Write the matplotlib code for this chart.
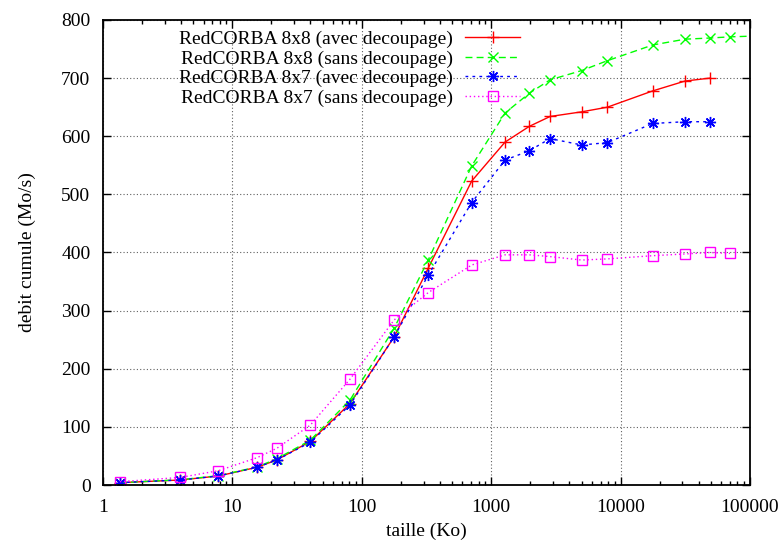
import matplotlib
matplotlib.use("Agg")
import matplotlib.pyplot as plt
from matplotlib.ticker import LogLocator, FixedLocator, NullFormatter

plt.rcParams['font.family'] = ['Liberation Serif', 'DejaVu Serif']

# tailles (Ko)
taille = [1.35, 3.95, 7.8, 15.5, 22, 40, 81, 178, 326, 707, 1280, 1970,
          2850, 5000, 7900, 17700, 31500, 49000, 70000]
taille_vert = taille + [130000]

# debit cumule (Mo/s)
avec_8x8 = [4, 8.6, 15.5, 30.5, 43, 75, 140, 255, 373, 523, 590, 617,
            634, 642, 650, 678, 695, 700]
sans_8x8 = [4, 9, 16, 31, 45, 77, 146, 270, 387, 549, 640, 674,
            697, 713, 730, 757, 767, 769, 771, 773]
avec_8x7 = [4, 8.6, 15.5, 30.4, 43, 73.5, 137.6, 255, 361, 486, 559, 575,
            596, 585, 589, 622, 625, 625]
sans_8x7 = [5.7, 13, 24.6, 47, 63, 103, 182, 284, 331, 378.5, 396, 396,
            393, 387, 389, 394.5, 397.5, 400, 398.5]

labels = ["RedCORBA 8x8 (avec decoupage)", "RedCORBA 8x8 (sans decoupage)",
          "RedCORBA 8x7 (avec decoupage)", "RedCORBA 8x7 (sans decoupage)"]

fig = plt.figure(figsize=(7.84, 5.42), dpi=100)
ax = fig.add_axes([103/784, 1-485/542, 647/784, 465/542])

ax.plot(taille[:len(avec_8x8)], avec_8x8, color='#ff0000', lw=1.0, ls='-',
        marker='+', ms=8, mew=1.0, label=labels[0])
ax.plot(taille_vert, sans_8x8, color='#00ff00', lw=1.0, ls=(0, (5, 3)),
        marker='x', ms=6.5, mew=1.0, label=labels[1])
ax.plot(taille[:len(avec_8x7)], avec_8x7, color='#0000ff', lw=1.0, ls=(0, (2, 3)),
        marker=(8, 2, 0), ms=8, mew=1.0, label=labels[2])
ax.plot(taille, sans_8x7, color='#ff00ff', lw=1.0, ls=(0, (1, 2)),
        marker='s', ms=6.5, mew=1.0, mfc='none', label=labels[3])

ax.set_xscale('log')
ax.set_xlim(1, 100000)
ax.set_ylim(0, 800)
ax.xaxis.set_major_locator(FixedLocator([1, 10, 100, 1000, 10000, 100000]))
ax.set_xticklabels(['1', '10', '100', '1000', '10000', '100000'])
ax.xaxis.set_minor_locator(LogLocator(base=10, subs=range(2, 10)))
ax.xaxis.set_minor_formatter(NullFormatter())
ax.set_yticks(range(0, 801, 100))

ax.grid(True, which='major', color='#606060', ls=(0, (1, 2)), lw=0.8)
ax.tick_params(which='both', direction='in', top=True, right=True,
               labelsize=14, width=1.0)
ax.tick_params(which='major', length=6)
ax.tick_params(axis='x', which='major', pad=10)
ax.tick_params(axis='y', which='major', pad=9)
ax.tick_params(which='minor', length=3)
for s in ax.spines.values():
    s.set_linewidth(1.3)

ax.set_xlabel('taille (Ko)', fontsize=14, labelpad=5)
ax.set_ylabel('debit cumule (Mo/s)', fontsize=14, labelpad=18)

ax.legend(loc='upper right', bbox_to_anchor=(0.645, 0.978), frameon=False,
          markerfirst=False, fontsize=14, handlelength=2.85, handletextpad=0.6,
          labelspacing=0.1, borderpad=0, borderaxespad=0)

fig.savefig('out.png', dpi=100)
